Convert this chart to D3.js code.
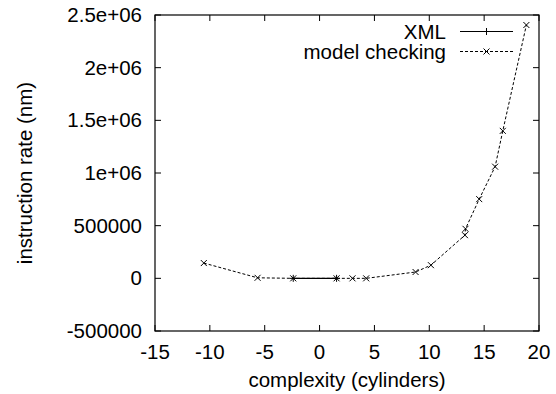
<!DOCTYPE html>
<html>
<head>
<meta charset="utf-8">
<script src="https://cdn.jsdelivr.net/npm/d3@7"></script>
<style>
  body { margin: 0; background: #fff; }
  text { font-family: "Liberation Sans", Arial, sans-serif; fill: #000; }
</style>
</head>
<body>
<svg id="chart" width="556" height="394"></svg>
<script>
// Data
const xmlX = [-2.4, 1.55];
const xmlY = [0, 0];

const mcX = [-10.55, -5.65, -2.4, 1.55, 3.0, 4.25, 8.75, 10.15, 13.25, 13.3, 14.55, 16.0, 16.7, 18.85];
const mcY = [145000, 5000, 0, 0, 0, 0, 60000, 125000, 410000, 470000, 752000, 1060000, 1400000, 2405000];

const xTicks = [-15, -10, -5, 0, 5, 10, 15, 20];
const yTicks = [-500000, 0, 500000, 1000000, 1500000, 2000000, 2500000];
const yTickLabels = ["-500000", "0", "500000", "1e+06", "1.5e+06", "2e+06", "2.5e+06"];

const legendNames = ["XML", "model checking"];

// Layout (plot box in pixels)
const plotLeft = 155, plotRight = 539, plotTop = 15, plotBottom = 331;
const fontSize = "20.5px";

const svg = d3.select("#chart");

const x = d3.scaleLinear().domain([-15, 20]).range([plotLeft, plotRight]);
const y = d3.scaleLinear().domain([-500000, 2500000]).range([plotBottom, plotTop]);

// Frame
svg.append("rect")
  .attr("x", plotLeft).attr("y", plotTop)
  .attr("width", plotRight - plotLeft).attr("height", plotBottom - plotTop)
  .attr("fill", "none").attr("stroke", "#000").attr("stroke-width", 1.2);

// Ticks, inward on all four sides
const tickLen = 6;
xTicks.forEach((t) => {
  svg.append("line").attr("x1", x(t)).attr("x2", x(t)).attr("y1", plotBottom).attr("y2", plotBottom - tickLen)
    .attr("stroke", "#000");
  svg.append("line").attr("x1", x(t)).attr("x2", x(t)).attr("y1", plotTop).attr("y2", plotTop + tickLen)
    .attr("stroke", "#000");
  svg.append("text").attr("x", x(t)).attr("y", 359).attr("text-anchor", "middle")
    .style("font-size", fontSize).text(t);
});

yTicks.forEach((t, i) => {
  svg.append("line").attr("x1", plotLeft).attr("x2", plotLeft + tickLen).attr("y1", y(t)).attr("y2", y(t))
    .attr("stroke", "#000");
  svg.append("line").attr("x1", plotRight).attr("x2", plotRight - tickLen).attr("y1", y(t)).attr("y2", y(t))
    .attr("stroke", "#000");
  svg.append("text").attr("x", 142).attr("y", y(t) + 7).attr("text-anchor", "end")
    .style("font-size", fontSize).text(yTickLabels[i]);
});

// Axis titles
svg.append("text").attr("x", (plotLeft + plotRight) / 2).attr("y", 386.5).attr("text-anchor", "middle")
  .style("font-size", fontSize).text("complexity (cylinders)");

svg.append("text")
  .attr("transform", `translate(32,${(plotTop + plotBottom) / 2}) rotate(-90)`)
  .attr("text-anchor", "middle")
  .style("font-size", fontSize).text("instruction rate (nm)");

// Markers
function plusMark(g, cx, cy) {
  g.append("path").attr("d", `M${cx - 3.5},${cy}H${cx + 3.5}M${cx},${cy - 3.5}V${cy + 3.5}`)
    .attr("stroke", "#000").attr("stroke-width", 1).attr("fill", "none");
}
function crossMark(g, cx, cy) {
  g.append("path").attr("d", `M${cx - 3},${cy - 3}L${cx + 3},${cy + 3}M${cx - 3},${cy + 3}L${cx + 3},${cy - 3}`)
    .attr("stroke", "#000").attr("stroke-width", 1).attr("fill", "none");
}

const line = d3.line().x((d) => x(d[0])).y((d) => y(d[1]));

// model checking series (dashed, x markers)
const mcData = mcX.map((v, i) => [v, mcY[i]]);
svg.append("path").datum(mcData).attr("d", line)
  .attr("fill", "none").attr("stroke", "#000").attr("stroke-width", 1)
  .attr("stroke-dasharray", "3,2");
const mcG = svg.append("g");
mcData.forEach((d) => crossMark(mcG, x(d[0]), y(d[1])));

// XML series (solid, + markers)
const xmlData = xmlX.map((v, i) => [v, xmlY[i]]);
svg.append("path").datum(xmlData).attr("d", line)
  .attr("fill", "none").attr("stroke", "#000").attr("stroke-width", 1.2);
const xmlG = svg.append("g");
xmlData.forEach((d) => plusMark(xmlG, x(d[0]), y(d[1])));

// Legend
const legendBaselines = [38.5, 58.5];
const lx1 = 460, lx2 = 513;
legendNames.forEach((name, i) => {
  const by = legendBaselines[i];
  const ly = by - 7;
  svg.append("text").attr("x", 446).attr("y", by).attr("text-anchor", "end")
    .style("font-size", fontSize).text(name);
  svg.append("line").attr("x1", lx1).attr("x2", lx2).attr("y1", ly).attr("y2", ly)
    .attr("stroke", "#000").attr("stroke-width", i === 0 ? 1.2 : 1)
    .attr("stroke-dasharray", i === 0 ? null : "3,2");
  if (i === 0) plusMark(svg, (lx1 + lx2) / 2, ly);
  else crossMark(svg, (lx1 + lx2) / 2, ly);
});
</script>
</body>
</html>
